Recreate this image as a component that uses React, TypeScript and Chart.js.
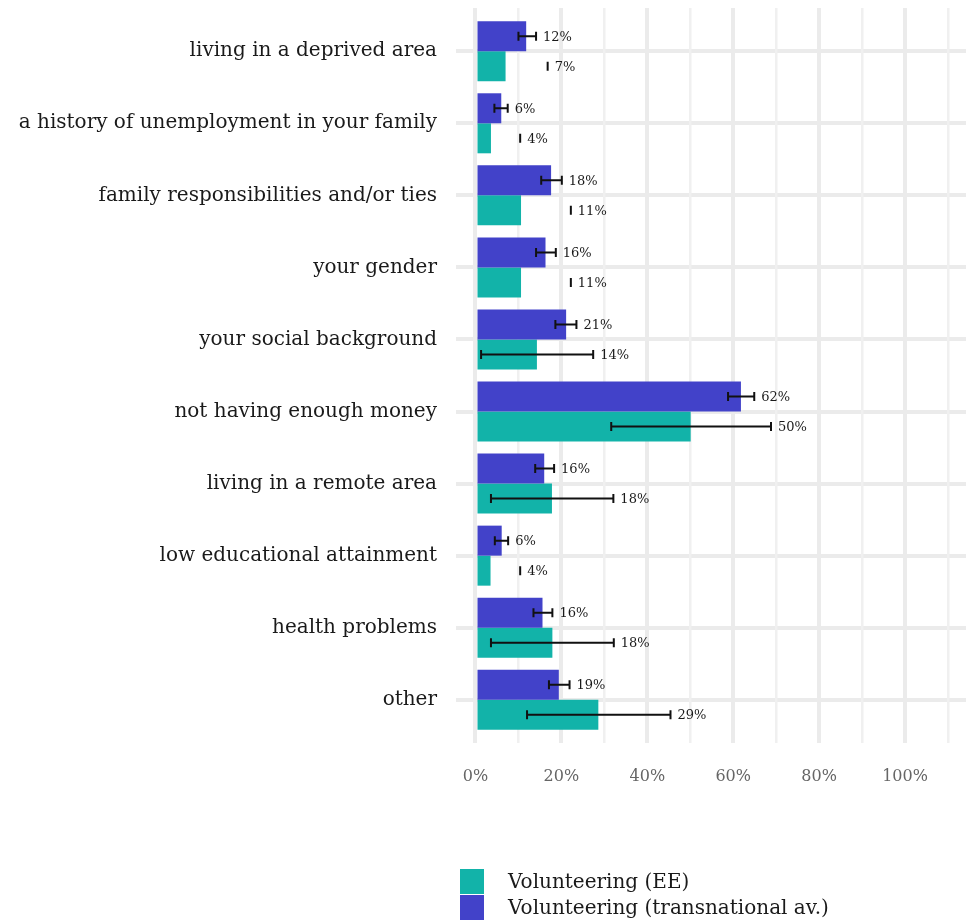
import React, { useEffect, useRef } from "react";
import { Chart, registerables } from "chart.js";

Chart.register(...registerables);

const categories = [
  "living in a deprived area",
  "a history of unemployment in your family",
  "family responsibilities and/or ties",
  "your gender",
  "your social background",
  "not having enough money",
  "living in a remote area",
  "low educational attainment",
  "health problems",
  "other",
];

// Volunteering (transnational av.)
const transValues = [11.8, 6.0, 17.6, 16.3, 21.1, 61.8, 16.0, 6.1, 15.6, 19.4];
const transLow = [10.0, 4.4, 15.3, 14.1, 18.6, 58.8, 13.9, 4.5, 13.5, 17.1];
const transHigh = [14.1, 7.5, 20.1, 18.7, 23.5, 64.9, 18.3, 7.6, 17.9, 21.9];

// Volunteering (EE)
const eeValues = [7.0, 3.6, 10.6, 10.6, 14.3, 50.1, 17.8, 3.5, 17.9, 28.6];
const eeLow = [16.8, 10.4, 22.2, 22.2, 1.3, 31.6, 3.6, 10.4, 3.6, 12.0];
const eeHigh = [16.8, 10.4, 22.2, 22.2, 27.4, 68.8, 32.1, 10.4, 32.2, 45.4];

const gridTicks = [0, 10, 20, 30, 40, 50, 60, 70, 80, 90, 100, 110];
const labelTicks = [0, 20, 40, 60, 80, 100];

const seriesNames = ["Volunteering (transnational av.)", "Volunteering (EE)"];
const BLUE = "#4242c9";
const TEAL = "#12b3a9";
const FONT = "'DejaVu Serif', 'Liberation Serif', serif";

const errorSets = [
  { low: transLow, high: transHigh, values: transValues },
  { low: eeLow, high: eeHigh, values: eeValues },
];

const errorBarPlugin = {
  id: "errorBars",
  afterDatasetsDraw(chart: any) {
    const ctx = chart.ctx;
    const xs = chart.scales.x;
    errorSets.forEach((set, di) => {
      const meta = chart.getDatasetMeta(di);
      meta.data.forEach((bar: any, i: number) => {
        const y = bar.y;
        const x1 = xs.getPixelForValue(set.low[i]);
        const x2 = xs.getPixelForValue(set.high[i]);
        ctx.save();
        ctx.strokeStyle = "#111111";
        ctx.lineWidth = 2;
        ctx.beginPath();
        ctx.moveTo(x1, y);
        ctx.lineTo(x2, y);
        ctx.moveTo(x1, y - 4.5);
        ctx.lineTo(x1, y + 4.5);
        ctx.moveTo(x2, y - 4.5);
        ctx.lineTo(x2, y + 4.5);
        ctx.stroke();
        ctx.fillStyle = "#1a1a1a";
        ctx.font = `13px ${FONT}`;
        ctx.textBaseline = "middle";
        ctx.textAlign = "left";
        ctx.fillText(Math.round(set.values[i]) + "%", x2 + 7, y + 1);
        ctx.restore();
      });
    });
  },
};

const zeroPadding = (axis: any) => {
  axis.paddingLeft = 0;
  axis.paddingRight = 0;
  axis.paddingTop = 0;
  axis.paddingBottom = 0;
};

export default function App() {
  const canvasRef = useRef<HTMLCanvasElement | null>(null);

  useEffect(() => {
    if (!canvasRef.current) return;
    const chart = new Chart(canvasRef.current, {
      type: "bar",
      data: {
        datasets: [
          {
            label: seriesNames[0],
            data: transValues.map((v, i) => ({ x: v, y: i })),
            backgroundColor: BLUE,
            borderWidth: 0,
          },
          {
            label: seriesNames[1],
            data: eeValues.map((v, i) => ({ x: v, y: i })),
            backgroundColor: TEAL,
            borderWidth: 0,
          },
        ],
      },
      options: {
        indexAxis: "y",
        responsive: false,
        animation: false,
        categoryPercentage: 0.833,
        barPercentage: 1,
        layout: { padding: { top: 8, right: 0, left: 0, bottom: 0 } },
        plugins: {
          legend: { display: false },
          tooltip: { enabled: false },
        },
        scales: {
          y: {
            type: "linear",
            reverse: true,
            offset: false,
            min: -0.6,
            max: 9.6,
            afterBuildTicks: (axis: any) => {
              axis.ticks = categories.map((_, i) => ({ value: i }));
            },
            afterFit: (axis: any) => {
              axis.width = 456;
              zeroPadding(axis);
            },
            border: { display: false },
            grid: { offset: false, color: "#ebebeb", lineWidth: 4, drawTicks: false },
            ticks: {
              autoSkip: false,
              padding: 19,
              color: "#1a1a1a",
              font: { family: FONT, size: 20 },
              callback: (v: any) => categories[v] ?? "",
            },
          },
          x: {
            type: "linear",
            offset: false,
            min: -4.54,
            max: 114.2,
            afterBuildTicks: (axis: any) => {
              axis.ticks = gridTicks.map((v) => ({ value: v }));
            },
            afterFit: (axis: any) => {
              axis.height = 179;
              zeroPadding(axis);
            },
            border: { display: false },
            grid: {
              offset: false,
              drawTicks: false,
              color: (c: any) => (c.tick && c.tick.value % 20 === 0 ? "#ebebeb" : "#f0f0f0"),
              lineWidth: (c: any) => (c.tick && c.tick.value % 20 === 0 ? 4 : 2.5),
            },
            ticks: {
              autoSkip: false,
              maxRotation: 0,
              padding: 24,
              color: "#666666",
              font: { family: FONT, size: 16 },
              callback: (v: any) => (labelTicks.includes(v) ? v + "%" : ""),
            },
          },
        },
      } as any,
      plugins: [errorBarPlugin],
    });
    return () => chart.destroy();
  }, []);

  const legendItems = [
    { name: seriesNames[1], color: TEAL },
    { name: seriesNames[0], color: BLUE },
  ];

  return (
    <div style={{ position: "absolute", left: 0, top: 0, width: 966, height: 922, background: "#fff" }}>
      <canvas ref={canvasRef} width={966} height={922} style={{ display: "block" }} />
      <div style={{ position: "absolute", left: 460, top: 868 }}>
        {legendItems.map((it) => (
          <div key={it.name} style={{ display: "flex", alignItems: "center", height: 26 }}>
            <div style={{ width: 24, height: 25, background: it.color, marginRight: 24 }} />
            <span style={{ fontFamily: FONT, fontSize: 20, color: "#1a1a1a", whiteSpace: "nowrap" }}>{it.name}</span>
          </div>
        ))}
      </div>
    </div>
  );
}
